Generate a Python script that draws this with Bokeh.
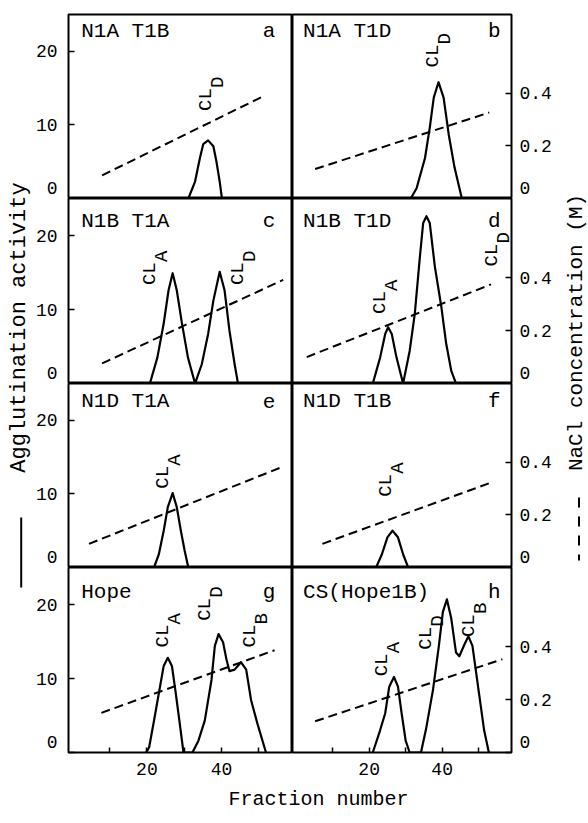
import math
from bokeh.plotting import figure
from bokeh.models import Range1d, LinearAxis, FixedTicker
from bokeh.layouts import row, column
from bokeh.embed import file_html
from bokeh.resources import INLINE
from bokeh.core.properties import value

FONT = "Liberation Mono"

# ---------------- data ----------------
fraction_major = [20, 40]
fraction_minor = [10, 20, 30, 40, 50]
activity_minor = [0, 10, 20]
nacl_minor = [0, 0.2, 0.4]

panel_titles = ["N1A T1B", "N1A T1D", "N1B T1A", "N1B T1D",
                "N1D T1A", "N1D T1B", "Hope", "CS(Hope1B)"]
panel_letters = ["a", "b", "c", "d", "e", "f", "g", "h"]

a_fraction = [31.1, 32.9, 34.2, 35.1, 36.4, 37.8, 38.6, 39.5, 40.1]
a_activity = [0, 2.3, 5.5, 7.4, 7.9, 7.1, 5.1, 2.3, 0]

b_fraction = [31.4, 33.0, 35.3, 36.6, 37.7, 39.0, 40.4, 41.8, 43.4, 45.4]
b_activity = [0, 1.4, 5.5, 9.6, 13.7, 15.8, 13.7, 8.7, 4.2, 0]

c_fraction = [20.8, 22.8, 24.5, 25.8, 26.9, 28.0, 29.4, 31.0, 32.9,
              34.7, 36.4, 37.8, 39.5, 40.8, 42.1, 43.5, 44.4]
c_activity = [0, 3.5, 8.1, 12.6, 14.9, 12.6, 8.1, 3.5, 0,
              2.6, 6.7, 11.2, 15.1, 12.6, 7.2, 2.6, 0]

d_fraction = [21.0, 23.0, 24.4, 25.2, 26.2, 27.5, 29.3, 31.1, 32.5,
              33.9, 34.8, 35.7, 36.6, 38.0, 39.8, 41.1, 42.5, 43.8]
d_activity = [0, 3.5, 6.7, 7.6, 6.7, 3.5, 0, 4.4, 9.4,
              17.1, 21.7, 22.6, 21.7, 15.8, 10.3, 5.4, 1.7, 0]

e_fraction = [21.9, 23.2, 24.5, 25.6, 26.9, 28.0, 29.1, 30.1, 31.1]
e_activity = [0, 1.8, 5.0, 8.2, 10.1, 8.2, 5.0, 2.3, 0]

f_fraction = [21.9, 23.5, 25.0, 26.4, 27.9, 29.3, 30.7]
f_activity = [0, 1.8, 4.1, 5.0, 4.1, 1.8, 0]

g_fraction = [19.8, 20.6, 21.9, 23.2, 24.5, 25.6, 26.7, 27.6, 28.7, 29.8,
              32.2, 33.8, 35.5, 37.3, 38.2, 39.2, 40.4, 41.3, 42.1, 43.5,
              45.2, 46.6, 47.9, 49.6, 51.9]
g_activity = [0, 0.7, 4.3, 8.0, 11.7, 12.8, 11.7, 8.5, 4.3, 0,
              0, 1.6, 4.3, 9.8, 14.4, 16.0, 14.9, 12.6, 11.0, 11.2,
              12.2, 11.2, 7.1, 3.9, 0]

h_fraction = [21.0, 23.0, 24.4, 25.5, 26.8, 27.9, 28.9, 30.0, 31.1,
              34.2, 35.6, 37.5, 39.1, 40.2, 41.3, 42.5, 43.8, 44.7, 46.1,
              47.2, 48.3, 50.1, 51.5, 52.8]
h_activity = [0, 3.0, 5.3, 8.9, 10.2, 8.9, 5.3, 1.6, 0,
              0, 3.2, 8.5, 14.4, 19.0, 20.7, 18.1, 13.5, 13.0, 14.6,
              15.7, 14.4, 8.0, 3.0, 0]

# NaCl gradient (dashed): start/end fraction and concentration (M)
nacl_fraction_start = [8.0, 5.2, 8.0, 2.9, 4.5, 7.2, 7.8, 5.2]
nacl_fraction_end = [51.6, 52.9, 56.5, 53.4, 55.8, 52.8, 54.2, 56.5]
nacl_start = [0.088, 0.112, 0.076, 0.100, 0.090, 0.090, 0.150, 0.118]
nacl_end = [0.392, 0.327, 0.392, 0.375, 0.380, 0.320, 0.387, 0.353]

# peak labels (CL_x): subscript, fraction, activity where label starts
peak_names = [["D"], ["D"], ["A", "D"], ["A", "D"], ["A"], ["A"],
              ["A", "D", "B"], ["A", "D", "B"]]
peak_fraction = [[35.6], [37.3], [20.8, 44.2], [22.7, 53.6], [24.3], [24.4],
                 [24.1, 35.4, 47.4], [23.3, 35.5, 47.3]]
peak_activity = [[11.9], [17.8], [13.3, 13.3], [9.4, 15.8], [10.7], [9.6],
                 [14.2, 17.8, 14.2], [10.3, 13.9, 15.6]]

curves_x = [a_fraction, b_fraction, c_fraction, d_fraction,
            e_fraction, f_fraction, g_fraction, h_fraction]
curves_y = [a_activity, b_activity, c_activity, d_activity,
            e_activity, f_activity, g_activity, h_activity]

# ---------------- layout ----------------
FRAME_H = [184, 185, 184, 185]
TITLE_BASE = [17, 23, 18, 25]
TOP_B = 14
BOT_B = 31
LEFT_LAB_W = 32
LEFT_B = 33
RIGHT_B = 42
LEFT_W = LEFT_B + 227
RIGHT_W = 220 + RIGHT_B
RIGHT_LAB_W = 34
BOTTOM_LAB_H = 37
Y_MAX = 25.0
NACL_MAX = 0.7
TICK_PX = "18px"


def style_axis(ax, standoff):
    ax.major_tick_in = 0
    ax.major_tick_out = 0
    ax.minor_tick_in = 6
    ax.minor_tick_out = 0
    ax.minor_tick_line_color = "black"
    ax.minor_tick_line_width = 1.5
    ax.axis_line_color = None
    ax.major_label_standoff = standoff
    ax.major_label_text_font = FONT
    ax.major_label_text_font_size = TICK_PX
    ax.major_label_text_color = "black"


def make_panel(i):
    r, c = divmod(i, 2)
    left = c == 0
    top = r == 0
    bottom = r == 3
    h = FRAME_H[r] + (TOP_B if top else 0) + (BOT_B if bottom else 0)
    w = LEFT_W if left else RIGHT_W
    p = figure(width=w, height=h, x_range=Range1d(-1, 59), y_range=Range1d(0, Y_MAX),
               output_backend="svg", toolbar_location=None,
               x_axis_location="below" if bottom else None,
               y_axis_location="left" if left else None,
               min_border_left=LEFT_B if left else 0,
               min_border_right=0 if left else RIGHT_B,
               min_border_top=TOP_B if top else 0,
               min_border_bottom=BOT_B if bottom else 0)
    p.extra_y_ranges = {"nacl": Range1d(0, NACL_MAX)}
    p.xgrid.visible = False
    p.ygrid.visible = False
    p.outline_line_color = "black"
    p.outline_line_width = 2
    p.background_fill_color = "white"
    p.border_fill_color = "white"

    if left:
        ax = p.yaxis[0]
        ax.ticker = FixedTicker(ticks=[1.45, 10, 20], minor_ticks=activity_minor)
        ax.major_label_overrides = {1.45: "0", 10: "10", 20: "20"}
        style_axis(ax, 11)
    else:
        ax = LinearAxis(y_range_name="nacl",
                        ticker=FixedTicker(ticks=[0.041, 0.2, 0.4], minor_ticks=nacl_minor))
        ax.major_label_overrides = {0.041: "0", 0.2: "0.2", 0.4: "0.4"}
        style_axis(ax, 8)
        p.add_layout(ax, "right")

    if bottom:
        xa = p.xaxis[0]
        xa.ticker = FixedTicker(ticks=fraction_major, minor_ticks=fraction_minor)
        style_axis(xa, 10)
        xa.minor_tick_in = 5

    # NaCl gradient
    p.line([nacl_fraction_start[i], nacl_fraction_end[i]], [nacl_start[i], nacl_end[i]],
           y_range_name="nacl", line_color="black", line_width=2, line_dash="9 5")
    # agglutination activity
    p.line(curves_x[i], curves_y[i], line_color="black", line_width=2.2, line_join="round")

    # peak labels CL with subscript
    n = len(peak_names[i])
    p.text(x=peak_fraction[i], y=peak_activity[i], text=["CL"] * n, angle=math.pi / 2,
           x_offset=0.5,
           text_font=value(FONT), text_font_size="19px", text_align="left",
           text_baseline="alphabetic", text_color="black")
    p.text(x=peak_fraction[i], y=peak_activity[i], text=peak_names[i], angle=math.pi / 2,
           x_offset=12.5, y_offset=-23,
           text_font=value(FONT), text_font_size="19px", text_align="left",
           text_baseline="alphabetic", text_color="black")

    # title and panel letter
    ty = Y_MAX - TITLE_BASE[r] * Y_MAX / FRAME_H[r]
    tx = 2.4 if left else 1.9
    lx = 52.7 if left else 54.3
    p.text(x=[tx], y=[ty], text=[panel_titles[i]], text_font=value(FONT),
           text_font_size="21px", text_align="left", text_baseline="alphabetic",
           text_color="black")
    p.text(x=[lx], y=[ty], text=[panel_letters[i]], text_font=value(FONT),
           text_font_size="21px", text_align="center", text_baseline="alphabetic",
           text_color="black")
    return p


panels = [make_panel(i) for i in range(8)]
GRID_H = sum(FRAME_H) + TOP_B + BOT_B


def blank(w, h):
    q = figure(width=w, height=h, x_range=Range1d(0, w), y_range=Range1d(0, h),
               output_backend="svg", toolbar_location=None,
               x_axis_location=None, y_axis_location=None,
               min_border_left=0, min_border_right=0, min_border_top=0, min_border_bottom=0)
    q.xgrid.visible = False
    q.ygrid.visible = False
    q.outline_line_color = None
    q.background_fill_color = "white"
    q.border_fill_color = "white"
    return q


left_lab = blank(LEFT_LAB_W, GRID_H)
left_lab.text(x=[18.5], y=[GRID_H - 327], text=["Agglutination activity"], angle=math.pi / 2,
              text_font=value(FONT), text_font_size="22px", text_align="center",
              text_baseline="alphabetic", text_color="black")
left_lab.line([20.7, 20.7], [GRID_H - 517, GRID_H - 587], line_color="black", line_width=2)

right_lab = blank(RIGHT_LAB_W, GRID_H)
right_lab.text(x=[22], y=[GRID_H - 332], text=["NaCl concentration (M)"], angle=math.pi / 2,
               text_font=value(FONT), text_font_size="21px", text_align="center",
               text_baseline="alphabetic", text_color="black")
right_lab.line([24.5, 24.5], [GRID_H - 497, GRID_H - 560], line_color="black", line_width=2,
               line_dash="10 9")

bottom_lab = blank(LEFT_LAB_W + LEFT_W + RIGHT_W + RIGHT_LAB_W, BOTTOM_LAB_H)
bottom_lab.text(x=[318], y=[BOTTOM_LAB_H - 16], text=["Fraction number"], text_font=value(FONT),
                text_font_size="20px", text_align="center", text_baseline="alphabetic",
                text_color="black")

grid = column(*[row(panels[2 * k], panels[2 * k + 1]) for k in range(4)])
layout = column(row(left_lab, grid, right_lab), bottom_lab)

open("out.html", "w").write(file_html(layout, INLINE))
